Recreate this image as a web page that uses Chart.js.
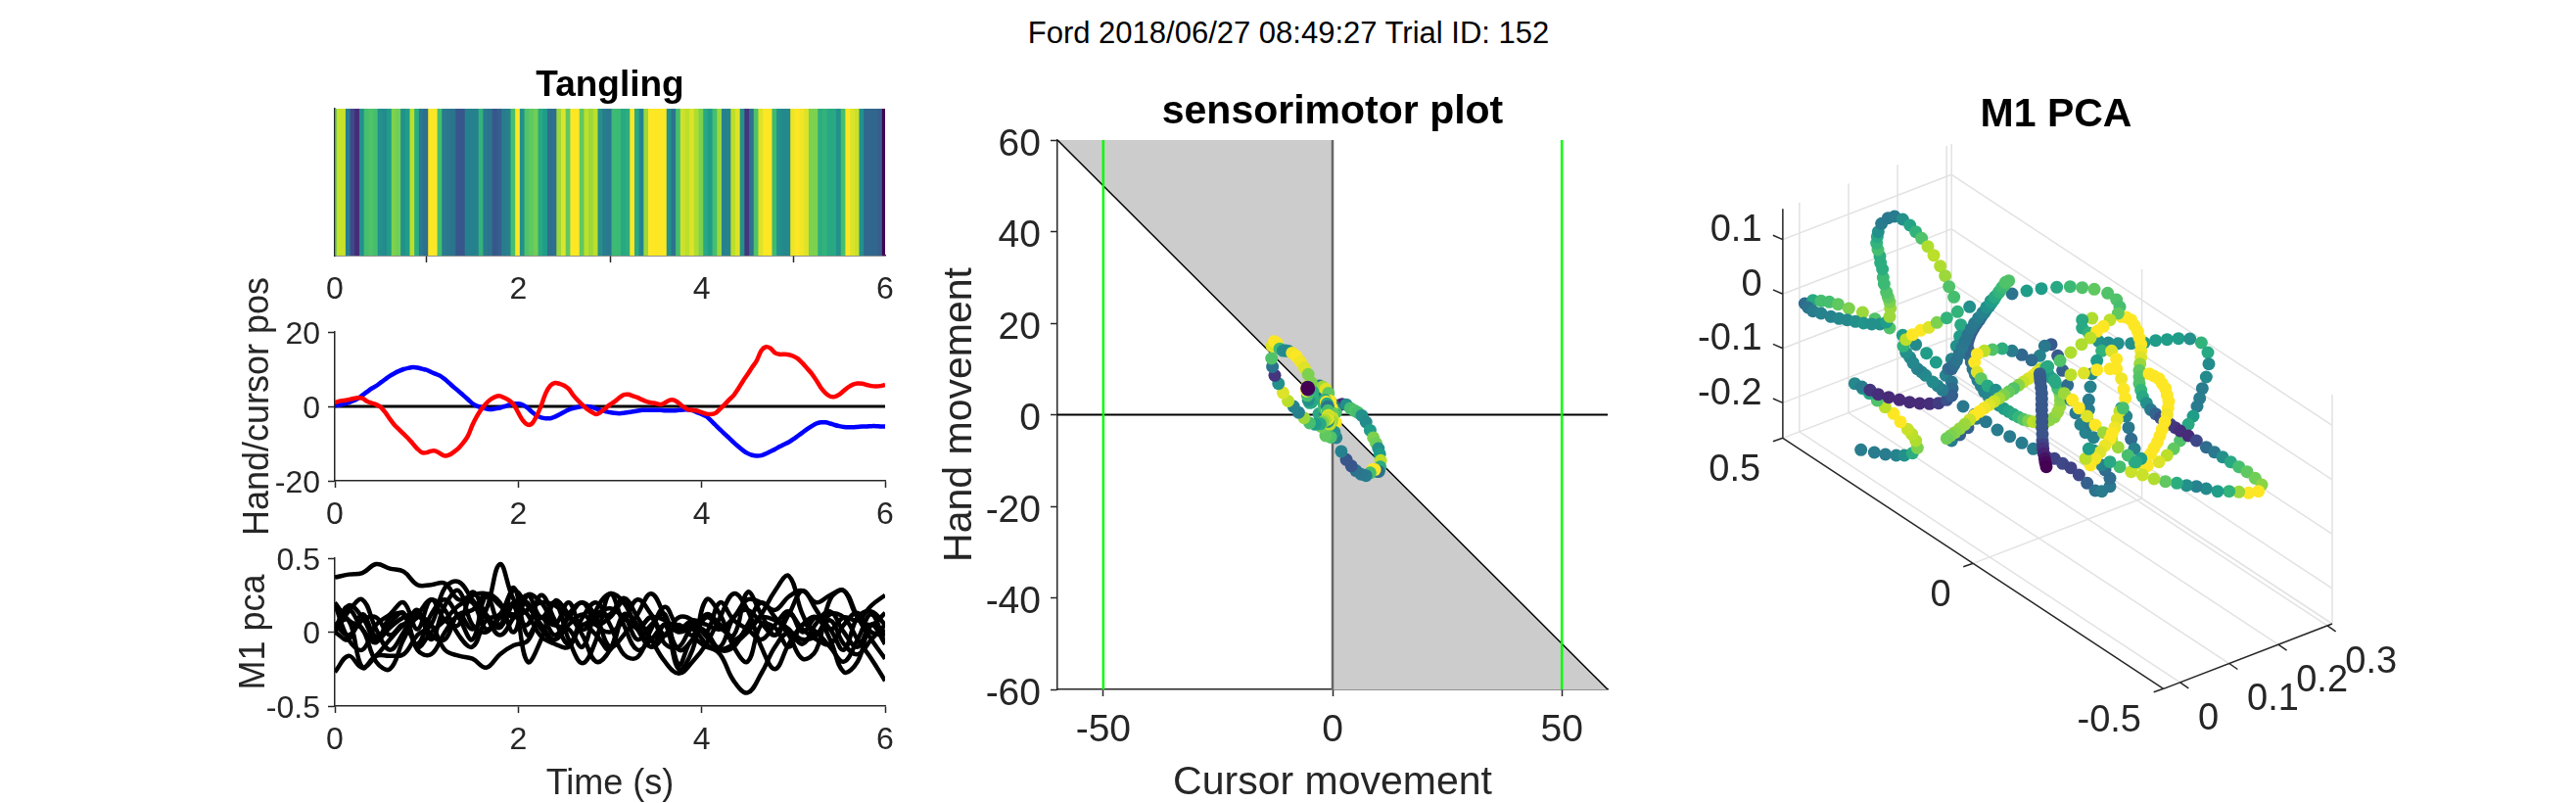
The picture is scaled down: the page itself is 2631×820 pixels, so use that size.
<!DOCTYPE html>
<html>
<head>
<meta charset="utf-8">
<title>Ford 2018/06/27 08:49:27 Trial ID: 152</title>
<script src="https://cdn.jsdelivr.net/npm/chart.js@4"></script>
<style>
  html, body { margin: 0; background: #fff; width: 2631px; height: 820px; overflow: hidden; }
  canvas { position: absolute; }
  #suptitle { position: absolute; left: 0; width: 2632px; top: 16px; text-align: center; color: #000;
              font: 31px "Liberation Sans", Arial, sans-serif; }
</style>
</head>
<body>
<div id="suptitle">Ford 2018/06/27 08:49:27 Trial ID: 152</div>
<canvas id="tangling"></canvas>
<canvas id="handcursor"></canvas>
<canvas id="m1pca"></canvas>
<canvas id="sensorimotor"></canvas>
<canvas id="pca3d"></canvas>
<script>
// samples are 0.05 s apart
const sampleStep = 0.05;

const tanglingValues = [
  .65,.92,.92,.42,.22,.12,.5,.7,.72,.7,.5,.48,.55,.8,.78,.5,.55,.9,.62,.4,
  .36,1,1,.7,.42,.4,.38,.27,.27,.44,.44,.44,.65,.4,.38,.27,.3,.42,.44,.7,
  1,.5,.72,.75,.78,.6,.55,.36,.36,.85,.95,.75,1,1,.75,.9,.85,.9,.5,.42,
  .4,.68,.68,.6,.62,1,.6,.45,.85,1,1,1,1,.5,.38,.7,.93,.9,.95,.88,
  .8,.6,.55,.7,.85,.44,.45,.9,.95,.5,.15,.38,.72,.95,1,1,.68,.5,.47,.47,
  .98,1,.98,.95,.8,.8,.62,.65,.6,.6,.5,.7,1,.95,.92,.5,.33,.33,.33,.3,
  0
];

const cursorPos = [
  .2,.4,.7,1,1.5,2.1,3,3.9,4.8,5.5,6.4,7.3,8.2,8.9,9.5,10,10.3,10.5,10.4,10.1,
  9.8,9.2,8.7,8.2,7.3,6.2,5.1,4.1,3,1.9,.8,.1,-.3,-.6,-.8,-.6,-.4,0,.4,.7,
  .7,.4,-.4,-1.5,-2.4,-3,-3.2,-3.2,-2.8,-2.2,-1.5,-.9,-.5,-.2,0,0,-.2,-.6,-1,-1.3,
  -1.6,-1.8,-1.9,-1.8,-1.6,-1.4,-1.2,-1,-1,-1,-1,-1,-1.1,-1.1,-1.1,-1,-.9,-.9,-1.1,-1.6,
  -2.1,-2.7,-3.8,-5,-6.2,-7.4,-8.5,-9.7,-10.8,-11.8,-12.6,-13.1,-13.3,-13.2,-12.7,-12.1,-11.5,-10.8,-10.2,-9.6,
  -8.8,-7.9,-7,-6.1,-5.3,-4.6,-4.3,-4.3,-4.6,-5,-5.3,-5.5,-5.6,-5.6,-5.5,-5.4,-5.4,-5.3,-5.3,-5.4,
  -5.4
];

const handPos = [
  1,1.4,1.6,1.8,2.1,2.3,2.2,1.4,.9,.5,-.2,-1.6,-3.4,-5,-6.2,-7.4,-8.6,-10,-11.4,-12.4,
  -12.4,-12,-12,-12.7,-13.3,-13,-12.2,-11.2,-9.8,-8,-5,-2.6,-.7,.8,1.9,2.6,2.8,2.3,1.6,.5,
  -1.7,-3.8,-4.9,-4.6,-2.6,.2,3.6,5.6,6.3,6.1,5.6,4.7,3,1.6,.4,-.7,-1.5,-2.1,-1.5,-.5,
  .5,1.3,2.3,3.1,3.2,2.8,2.4,1.8,1.3,1,.8,.5,1,1.7,1.7,.9,-.1,-.8,-1,-1.2,
  -1.6,-2,-2.1,-1.8,-.7,.5,1.8,3,4.8,6.8,8.6,10.5,12.3,15,16,15.6,14.4,14,14,13.9,
  13.5,12.8,11.6,10.2,8.8,7,5,3.6,2.7,2.6,3.2,4.2,5.2,5.9,6.2,6.1,5.8,5.5,5.4,5.5,
  5.8
];

// M1 principal components, 0.15 s apart
const pcaStep = 0.15;
const pc1 = [.37,.39,.40,.46,.43,.41,.32,.32,.33,.22,.25,.26,.18,.10,.15,.20,.18,.10,.05,.12,.16,.10,.03,.10,.08,.02,.08,.05,.02,.10,.22,.20,.15,.24,.28,.20,.25,.28,.10,.05,.13];
const pc2 = [.02,.18,.10,-.05,.03,.10,.12,-.02,-.05,.12,.02,.15,.46,.22,.12,-.03,-.08,-.10,.05,-.02,-.12,.10,-.05,.05,.12,-.22,-.05,-.10,-.12,-.08,0,.12,.28,.38,.12,-.02,.08,-.08,-.15,-.05,.05];
const pc3 = [-.27,-.16,-.24,-.16,-.05,.05,.12,.22,.15,-.02,-.10,.08,.12,.28,.18,.05,-.05,.12,.20,.10,-.10,-.02,.12,.26,.10,-.12,-.05,.10,.03,-.02,.27,.12,-.02,.12,.28,.15,.02,.10,.08,.18,.25];
const pc4 = [.05,.08,-.24,-.16,-.16,-.15,-.02,.05,.30,.34,.22,.10,-.02,.10,.25,.10,.20,-.05,-.21,-.05,.26,.05,-.12,-.05,.05,0,.02,-.08,-.15,-.33,-.41,-.28,-.10,0,-.05,-.02,.12,.10,-.05,-.18,-.33];
const pc5 = [.20,.08,.02,-.20,-.25,-.05,.10,.05,-.12,-.16,-.18,-.24,-.15,-.09,-.06,.10,.05,.20,.02,.10,.12,.23,.10,-.05,-.20,-.28,-.20,-.08,.10,.26,.15,-.10,-.25,-.08,.05,.10,-.05,-.27,-.20,.05,0];
const pc6 = [.19,-.05,-.12,.05,.12,.20,.02,.22,.08,.05,.27,.12,.03,.18,-.20,-.05,.21,.12,-.02,-.20,-.12,.12,.05,-.10,.05,-.25,-.12,.22,.12,-.10,-.20,.05,.03,-.10,.05,0,-.10,-.20,-.05,.12,-.08];
const pc7 = [0,.14,.22,.02,-.12,0,.15,-.05,.18,.28,.05,0,.10,.12,.05,.25,.08,-.08,.10,.20,.05,-.15,-.17,.02,.17,.03,.05,0,-.12,-.10,.05,.20,.10,-.02,-.18,-.12,.22,.28,.10,-.05,-.18];
const pc8 = [0,-.05,.12,-.03,.06,.13,-.10,0,.08,.18,.20,.02,.10,.20,.20,.02,-.05,.05,.12,.05,.10,.20,.02,.10,-.08,-.10,.03,0,.20,.08,.02,-.05,.05,.14,0,.10,.02,-.12,.10,.14,.05];
const pc9 = [.05,-.02,.08,.10,-.02,.05,-.08,.12,.22,.10,-.05,.25,.20,0,.25,.20,.05,.02,-.10,.15,.26,.20,.02,-.10,-.02,.10,.08,-.03,-.10,.10,.15,.06,-.02,.12,.02,-.05,-.08,.05,.13,0,-.02];
const pc10 = [.03,.15,.02,-.07,.10,.12,-.12,-.15,0,.12,.15,.25,.05,.30,-.02,.10,-.02,.10,.20,.05,0,.08,.22,.12,-.02,.05,-.02,.12,.05,-.05,.02,.10,.08,.02,-.08,.06,.14,0,-.10,.05,-.08];

const timeTicks = [0, 2, 4, 6];
const handTicks = [-20, 0, 20];
const pcaTicks = [-0.5, 0, 0.5];
const sensoryXTicks = [-50, 0, 50];
const sensoryYTicks = [-60, -40, -20, 0, 20, 40, 60];

// 3D plot: trajectory as it lies in the viewing plane (h to the right, v downward),
// with the colour value read for each dot
const pcaH = [
  362,403,437,470,495,520,535,530,518,505,483,462,436,412,388,367,343,
  365,390,415,447,480,511,542,572,600,625,640,
  190,215,240,265,292,325,367,405,450,
  490,530,563,592,622,640,642,640,675,710,745,780,818,855,890,930,
  200,215,240,270,295,320,345,370,395,420,440,450,452,450,445,440,433,430,428,422,420,414,410,412,415,425,445,465,490,512,530,548,567,585,605,620,632,647,658,668,665,655,640,630,
  612,597,582,560,548,535,522,512,500,492,500,520,545,570,595,625,695,760,825,870,915,962,1003,1040,1077,1118,1145,1155,
  815,807,800,792,785,777,770,762,755,747,740,732,725,716,708,701,695,691,688,691,695,700,705,712,720,730,740,754,770,785,800,815,830,845,860,875,890,907,925,940,955,965,972,973,972,965,958,946,935,
  640,647,655,663,672,681,690,700,710,722,735,747,760,772,785,795,805,
  640,665,690,715,
  955,980,1005,1030,1055,1080,1100,1125,1125,1110,1100,1075,1050,1035,1020,1005,995,980,965,945,925,910,885,855,825,795,765,740,718,710,718,730,750,775,
  1070,1040,1040,1060,1090,1120,1150,1190,1230,1265,1300,1335,1370,1405,1425,1428,1420,1408,1400,1392,1380,1365,1340,1320,1300,1275,1240,1210,
  1100,1085,1070,1065,1060,1060,1065,1075,
  1160,1175,1190,1200,1210,1215,1220,1220,1220,1217,1215,1215,1215,1220,1225,1237,1250,1265,1280,1295,1310,1325,1340,1365,1390,1420,1445,1470,1495,1520,1545,1570,1590,1580,1550,1520,1490,1455,1420,1390,1360,1330,1295,1260,1225,1190,1155,1125,
  1125,1085,1045,1005,
  1245,1260,1275,1285,1295,1300,1305,1303,1300,1293,1285,1278,1270,1260,1250,1238,1225,1200,
  1160,1165,1175,1182,1190,1200,1220,
  1150,1125,1105,1085,1065,1038,1005,972,935,912,901,890,875,860,845,830,815,800,785,770,755,740,725,710,695,680,665,650,637,625,
  930,955,985,1010,1030,1055,1080,1105,1130,1150,1180,1205,
  1155,1147,1140,1132,1125,1110,1095,1080,1065,1050,1060,
  1130,1145,1145,1160,1167,1172,1165,
  910,911,912,914,916,916,916,916,917,917,917,918,918,919,920,922,925,927,930
];
const pcaV = [
  718,726,732,735,735,728,712,690,670,655,632,607,587,567,545,530,515,
  525,535,548,557,565,572,576,577,575,565,552,
  270,260,262,265,272,285,297,317,345,
  367,395,422,450,490,510,530,552,585,610,632,657,677,697,715,740,
  282,293,300,310,316,320,325,330,333,333,327,310,285,265,250,235,210,190,165,145,125,105,85,65,50,25,8,3,12,30,50,70,95,122,155,185,218,250,295,335,370,400,440,470,
  535,522,510,490,480,470,452,435,420,400,380,365,352,343,328,314,280,262,240,231,224,220,218,221,226,238,258,280,
  200,207,215,225,235,246,258,268,278,288,298,309,320,332,345,357,370,382,395,412,430,450,470,487,505,522,540,556,572,582,592,601,610,618,625,629,632,634,635,627,618,602,585,566,548,530,512,498,485,
  470,458,445,425,405,385,365,347,330,314,298,281,265,250,235,220,205,
  690,672,650,622,
  745,760,773,795,820,843,845,830,805,780,765,720,665,640,605,565,520,475,430,395,400,430,443,427,415,408,411,415,425,450,480,500,522,535,
  315,320,345,360,385,390,392,392,390,383,380,377,378,390,420,455,495,530,560,585,615,640,690,715,735,755,767,760,
  415,445,485,525,565,595,640,680,
  310,312,320,337,355,375,395,415,435,455,475,495,515,535,555,575,595,608,620,630,640,650,660,675,690,710,725,740,755,770,785,805,825,845,850,847,845,845,837,830,827,820,815,807,795,785,770,755,
  470,473,483,488,
  485,492,500,515,530,550,570,590,610,632,655,675,695,712,730,743,755,755,
  590,605,615,650,685,715,745,
  300,320,340,355,375,395,420,445,463,470,480,490,500,510,520,530,540,550,560,570,580,590,601,612,626,640,653,665,674,683,
  465,505,545,565,590,615,642,665,685,710,735,755,
  600,625,650,667,685,705,725,745,765,745,715,
  415,440,470,500,532,560,590,
  485,497,510,527,545,562,580,597,615,632,650,670,690,702,715,730,745,757,770
];
const pcaShade = [
  .42,.42,.42,.45,.5,.62,.8,.88,.9,.92,1,1,.9,.72,.6,.55,.47,
  .42,.15,.13,.12,.12,.12,.12,.13,.18,.25,.3,
  .35,.6,.7,.7,.75,.8,.85,.72,.72,
  .55,.48,.55,.55,.45,.4,.35,.3,.4,.35,.4,.42,.42,.42,.42,.25,
  .38,.42,.45,.45,.47,.47,.5,.52,.5,.5,.55,.85,.85,.8,.75,.72,.68,.68,.62,.62,.62,.7,.65,.6,.5,.42,.4,.42,.5,.58,.65,.72,.88,.9,.88,.85,.72,.7,.65,.6,.55,.5,.45,.35,
  .42,.45,.48,.48,.47,.45,.47,.47,.5,.65,.9,1,1,.95,.8,.65,.5,.45,.38,.55,.55,.6,.68,.72,.75,.72,.72,.7,
  .72,.72,.72,.71,.7,.66,.62,.56,.5,.46,.42,.38,.35,.32,.3,.29,.28,.29,.3,.31,.32,.35,.38,.4,.42,.44,.45,.46,.47,.51,.55,.58,.6,.66,.72,.8,.9,.88,.85,.83,.82,.84,.85,.82,.8,.7,.6,.57,.55,
  .33,.35,.38,.39,.4,.39,.38,.39,.4,.42,.45,.5,.55,.6,.65,.68,.72,
  .42,.3,.3,.4,
  .2,.22,.2,.22,.3,.38,.42,.4,.35,.35,.45,.5,.45,.45,.42,.42,.35,.3,.28,.28,.4,.45,.35,.33,.42,.62,.72,.9,1,1,.95,.75,.6,.5,
  .88,.6,.6,.65,.5,.48,.5,.5,.55,.55,.55,.55,.5,.65,.6,.48,.48,.42,.42,.42,.55,.6,.72,.75,.9,.95,1,.92,
  .65,.55,.48,.45,.42,.42,.42,.45,
  1,1,1,1,1,1,1,.98,.95,.85,.75,.73,.72,.66,.6,.5,.4,.32,.25,.22,.2,.16,.13,.12,.22,.35,.4,.5,.6,.7,.75,.78,.82,1,1,.85,.65,.55,.48,.45,.5,.62,.75,.88,.92,.92,.7,.6,
  1,1,.95,.9,
  1,1,1,1,1,1,1,1,.98,1,1,1,1,1,1,1,1,.65,
  .55,.5,.45,.4,.35,.45,.55,
  .75,.9,1,1,.9,.88,.88,.72,.62,.9,.95,.98,.95,.92,.82,.72,.76,.8,.86,.92,.95,.98,1,1,.92,.85,.84,.82,.8,.78,
  .6,.6,.85,1,1,.95,1,.85,.9,.85,.7,.6,
  .9,.95,.98,1,1,.97,.95,.98,1,.9,.55,
  .95,1,1,.98,1,1,.7,
  .3,.29,.28,.28,.28,.28,.28,.28,.27,.27,.27,.26,.25,.2,.15,.1,.05,.02,0
];
const box3dXTicks = [0.5, 0, -0.5];
const box3dYTicks = [0, 0.1, 0.2, 0.3];
const box3dZTicks = [-0.2, -0.1, 0, 0.1];

const TXT = '#262626';
const FONT = '"Liberation Sans", Arial, sans-serif';
const stops = ['#440154','#482878','#3e4989','#31688e','#26828e','#1f9e89','#35b779','#6ece58','#b5de2b','#fde725'];

function viridis(v) {
  const p = Math.min(Math.max(v, 0), 1) * (stops.length - 1);
  const i = Math.min(Math.floor(p), stops.length - 2), f = p - i;
  const a = parseInt(stops[i].slice(1), 16), b = parseInt(stops[i + 1].slice(1), 16);
  const mix = s => Math.round(((a >> s) & 255) * (1 - f) + ((b >> s) & 255) * f);
  return `rgb(${mix(16)},${mix(8)},${mix(0)})`;
}

const times = tanglingValues.map((v, i) => +(i * sampleStep).toFixed(2));
const pts = (xs, ys) => ys.map((y, i) => ({ x: xs[i], y }));

// put a canvas so that its chart area lands on plot, pad = room around it
function place(id, plot, pad) {
  const c = document.getElementById(id);
  c.width = pad.l + plot.r - plot.l + pad.r;
  c.height = pad.t + plot.b - plot.t + pad.b;
  c.style.left = (plot.l - pad.l) + 'px';
  c.style.top = (plot.t - pad.t) + 'px';
  return c;
}

function axis(ticks, min, max, room, fontSize, title, titleSize, pad) {
  return {
    type: 'linear', min, max,
    afterFit: s => { if (s.isHorizontal()) s.height = room; else s.width = room; },
    afterBuildTicks: s => { s.ticks = ticks.map(value => ({ value })); },
    grid: { drawOnChartArea: false, drawTicks: true, tickLength: 7, tickColor: TXT, tickWidth: 1.5 },
    border: { display: true, color: TXT, width: 1.5 },
    ticks: {
      display: ticks.length > 0, color: TXT, padding: pad, maxRotation: 0, autoSkip: false,
      font: { family: FONT, size: fontSize }, callback: v => String(v)
    },
    title: { display: !!title, text: title || '', color: TXT, padding: 0, font: { family: FONT, size: titleSize } }
  };
}

// y axis tick labels sit a little lower than the tick in the figure
function yAxis(ticks, min, max, room, fontSize, title, titleSize, pad, drop) {
  const a = axis(ticks, min, max, room, fontSize, title, titleSize, pad);
  a.ticks.labelOffset = drop;
  return a;
}

function baseOptions(pad, titleText, titleSize, titleGap, scales) {
  const titleH = titleText ? titleSize + titleGap : 0;
  return {
    responsive: false, animation: false, devicePixelRatio: 1,
    layout: { autoPadding: false, padding: { left: 0, right: pad.r, top: pad.t - titleH, bottom: 0 } },
    plugins: {
      legend: { display: false }, tooltip: { enabled: false },
      title: {
        display: !!titleText, text: titleText, color: '#000', fullSize: false,
        padding: { top: 0, bottom: titleGap },
        font: { family: FONT, size: titleSize, weight: 'bold', lineHeight: 1 }
      }
    },
    scales
  };
}

// ---- left column
const plotTangling = { l: 342, r: 904, t: 111, b: 261 };
const plotHand = { l: 342, r: 904, t: 339, b: 491 };
const plotPca = { l: 342, r: 904, t: 570, b: 721 };
const leftPad = { l: 100, r: 30, t: 44, b: 52 };
const handPad = { l: 100, r: 30, t: 70, b: 70 };

new Chart(place('tangling', plotTangling, leftPad), {
  type: 'bar',
  data: {
    datasets: [{
      data: pts(times, tanglingValues.map(() => 1)),
      backgroundColor: tanglingValues.map(viridis),
      barThickness: 5.6, borderWidth: 0
    }]
  },
  options: baseOptions(leftPad, 'Tangling', 37, 5, {
    x: Object.assign(axis(timeTicks, 0, 6, leftPad.b, 32, '', 0, 9), { offset: false }),
    y: axis([], 0, 1, leftPad.l, 32, '', 0, 8)
  })
});

new Chart(place('handcursor', plotHand, handPad), {
  type: 'line',
  data: {
    datasets: [
      { data: pts(times, handPos), borderColor: '#ff0000', borderWidth: 4.5, pointRadius: 0, tension: .3 },
      { data: pts(times, cursorPos), borderColor: '#0000ff', borderWidth: 4.5, pointRadius: 0, tension: .3 },
      { data: [{ x: 0, y: 0 }, { x: 6, y: 0 }], borderColor: '#000', borderWidth: 3, pointRadius: 0 }
    ]
  },
  options: baseOptions(handPad, '', 0, 0, {
    x: axis(timeTicks, 0, 6, handPad.b, 32, '', 0, 9),
    y: yAxis(handTicks, -20, 20, handPad.l, 32, 'Hand/cursor pos', 36, 8, 3)
  })
});

const pcaTimes = pc1.map((v, i) => +(i * pcaStep).toFixed(2));
const pcLines = [pc1, pc2, pc3, pc4, pc5, pc6, pc7, pc8, pc9, pc10];
const pcaPad = { l: 104, r: 30, t: 44, b: 102 };
new Chart(place('m1pca', plotPca, pcaPad), {
  type: 'line',
  data: {
    datasets: pcLines.map(line => ({
      data: pts(pcaTimes, line), borderColor: '#000', borderWidth: 4.5, pointRadius: 0, tension: .4
    }))
  },
  options: baseOptions(pcaPad, '', 0, 0, {
    x: axis(timeTicks, 0, 6, pcaPad.b, 32, 'Time (s)', 36, 9),
    y: yAxis(pcaTicks, -0.5, 0.5, pcaPad.l, 32, 'M1 pca', 36, 8, 3)
  })
});

// ---- middle panel
const plotSensory = { l: 1080, r: 1642, t: 143, b: 704 };
const sensoryPad = { l: 124, r: 30, t: 60, b: 120 };
const lineSet = (data, color, width) => ({ data, borderColor: color, borderWidth: width, pointRadius: 0 });

new Chart(place('sensorimotor', plotSensory, sensoryPad), {
  type: 'line',
  data: {
    datasets: [
      {
        data: pts(cursorPos, handPos), showLine: false,
        pointBackgroundColor: tanglingValues.map(viridis), pointBorderWidth: 0,
        pointRadius: tanglingValues.map((v, i) => i === tanglingValues.length - 1 ? 7.5 : 6.5)
      },
      lineSet([{ x: -50, y: -60 }, { x: -50, y: 60 }], '#00ff00', 2.5),
      lineSet([{ x: 50, y: -60 }, { x: 50, y: 60 }], '#00ff00', 2.5),
      lineSet([{ x: -60, y: 0 }, { x: 60, y: 0 }], '#000', 2),
      lineSet([{ x: -60, y: 60 }, { x: 60, y: -60 }], '#000', 1.5),
      lineSet([{ x: 0, y: -60 }, { x: 0, y: 60 }], '#666', 2.5),
      Object.assign(lineSet([{ x: -60, y: 60 }, { x: 0, y: 0 }], 'transparent', 0),
        { fill: { value: 60 }, backgroundColor: '#cccccc' }),
      Object.assign(lineSet([{ x: 0, y: 0 }, { x: 60, y: -60 }], 'transparent', 0),
        { fill: { value: -60 }, backgroundColor: '#cccccc' })
    ]
  },
  options: baseOptions(sensoryPad, 'sensorimotor plot', 41, 8, {
    x: axis(sensoryXTicks, -60, 60, sensoryPad.b, 39, 'Cursor movement', 41, 12),
    y: yAxis(sensoryYTicks, -60, 60, sensoryPad.l, 39, 'Hand movement', 41, 10, 5)
  })
});

// ---- right panel: box of the 3D axes projected into the same viewing plane
const plot3d = { l: 1700, r: 2500, t: 143, b: 800 };
const pad3d = { l: 0, r: 0, t: 60, b: 0 };
const lim = { x: [0.5, -0.5], y: [-0.0339, 0.31], z: [-0.2648, 0.1564] };
const corner = { h: 122.6, v: 682 }, xVec = { h: 1166.4, v: 768 }, yVec = { h: 517, v: -199 }, zPerUnit = 1667;

function project(x, y, z) {
  const fx = (lim.x[0] - x) / (lim.x[0] - lim.x[1]);
  const fy = (y - lim.y[0]) / (lim.y[1] - lim.y[0]);
  return {
    x: corner.h + fx * xVec.h + fy * yVec.h,
    y: corner.v + fx * xVec.v + fy * yVec.v - (z - lim.z[0]) * zPerUnit
  };
}

const gap = { x: NaN, y: NaN };
const gridSeg = [], axisSeg = [];
const addSeg = (list, a, b) => list.push(project(...a), project(...b), gap);
const [x0, x1] = lim.x, [y0, y1] = lim.y, [z0, z1] = lim.z;

box3dYTicks.concat([y1]).forEach(y => {
  addSeg(gridSeg, [x0, y, z0], [x1, y, z0]);
  addSeg(gridSeg, [x0, y, z0], [x0, y, z1]);
});
box3dXTicks.forEach(x => {
  addSeg(gridSeg, [x, y0, z0], [x, y1, z0]);
  addSeg(gridSeg, [x, y1, z0], [x, y1, z1]);
});
box3dZTicks.forEach(z => {
  addSeg(gridSeg, [x0, y0, z], [x0, y1, z]);
  addSeg(gridSeg, [x0, y1, z], [x1, y1, z]);
});

addSeg(axisSeg, [x0, y0, z0], [x0, y0, z1]);
addSeg(axisSeg, [x0, y0, z0], [x1, y0, z0]);
addSeg(axisSeg, [x1, y0, z0], [x1, y1, z0]);
const stub = (p, dh, dv) => axisSeg.push(p, { x: p.x + dh, y: p.y + dv }, gap);
box3dZTicks.forEach(z => stub(project(x0, y0, z), -30, -13));
box3dXTicks.forEach(x => stub(project(x, y0, z0), -30, 10));
box3dYTicks.forEach(y => stub(project(x1, y, z0), 26, 18));

const labels3d = [
  ...box3dZTicks.map(z => ({ p: project(x0, y0, z), dh: -64, dv: -27, align: 'right', text: String(z) })),
  ...box3dXTicks.map(x => ({ p: project(x, y0, z0), dh: -68, dv: 100, align: 'right', text: String(x) })),
  ...box3dYTicks.map(y => ({ p: project(x1, y, z0), dh: 55, dv: 112, align: 'left', text: String(y) }))
];

const tickText3d = {
  id: 'tickText3d',
  afterDraw(chart) {
    const { ctx, scales } = chart;
    ctx.save();
    ctx.fillStyle = TXT;
    ctx.font = '38px ' + FONT;
    ctx.textBaseline = 'middle';
    labels3d.forEach(l => {
      ctx.textAlign = l.align;
      ctx.fillText(l.text, scales.x.getPixelForValue(l.p.x + l.dh), scales.y.getPixelForValue(l.p.y + l.dv));
    });
    ctx.restore();
  }
};

new Chart(place('pca3d', plot3d, pad3d), {
  type: 'line',
  data: {
    datasets: [
      {
        data: pts(pcaH, pcaV), showLine: false, clip: false,
        pointBackgroundColor: pcaShade.map(viridis), pointBorderWidth: 0, pointRadius: 6.5
      },
      { data: axisSeg, borderColor: TXT, borderWidth: 1.5, pointRadius: 0, spanGaps: false, clip: false },
      { data: gridSeg, borderColor: '#e2e2e2', borderWidth: 1.5, pointRadius: 0, spanGaps: false, clip: false }
    ]
  },
  options: baseOptions(pad3d, 'M1 PCA', 41, 5, {
    x: { type: 'linear', display: false, min: -240, max: 2160 },
    y: { type: 'linear', display: false, min: -231, max: 1740, reverse: true }
  }),
  plugins: [tickText3d]
});
</script>
</body>
</html>
